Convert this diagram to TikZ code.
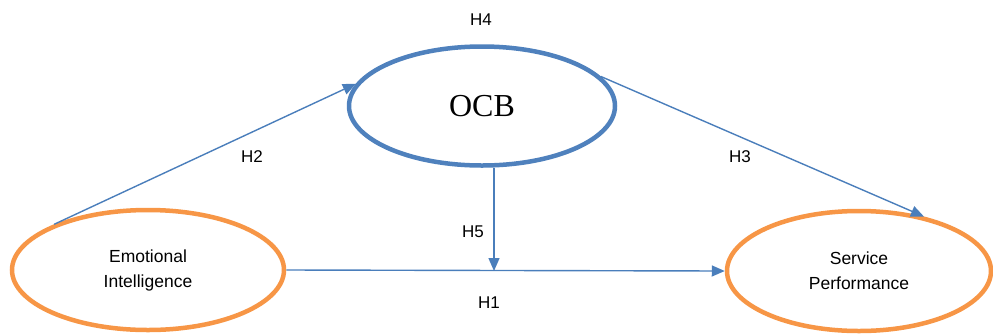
\documentclass[tikz,border=0pt]{standalone}
\usepackage{fontspec}
\setmainfont{Liberation Sans}
\newfontfamily\serifface{Liberation Serif}
\usetikzlibrary{shapes.geometric,arrows.meta}
\definecolor{ocbblue}{HTML}{4F81BD}
\definecolor{linkblue}{HTML}{4A7EBB}
\definecolor{eiorange}{HTML}{F79646}
\tikzset{
  construct/.style={ellipse, draw=eiorange, line width=4.5pt, fill=white, inner sep=0pt,
    align=center, font=\fontsize{17.5}{25}\selectfont},
  mediator/.style={ellipse, draw=ocbblue, line width=4.5pt, fill=white, inner sep=0pt,
    font=\serifface\fontsize{32}{36}\selectfont},
  link/.style={draw=linkblue, line width=1.4pt, -{Triangle[length=13pt,width=11pt]}},
  hyp/.style={font=\fontsize{17}{20}\selectfont}
}
\begin{document}
\begin{tikzpicture}[x=1pt,y=-1pt]
\useasboundingbox (0,0) rectangle (993,333);
% constructs
\node[construct, minimum width=272pt, minimum height=120pt] (ei) at (148,270) {Emotional\\Intelligence};
\node[construct, minimum width=264pt, minimum height=120pt] (sp) at (859,271) {Service\\Performance};
\node[mediator, minimum width=266pt, minimum height=119pt] (ocb) at (482,106) {OCB};
% junction on the direct path
\coordinate (j) at (494,271);
% hypothesised paths
\draw[link] (ei.east) -- (sp.west);
\draw[link] (ei.154) -- (ocb.170);
\draw[link] (ocb.14) -- (sp.40);
\draw[link] (j |- ocb.south) -- (j);
% labels
\node[hyp] (h4) at (481,20) {H4};
\node[hyp] (h2) at (252,157) {H2};
\node[hyp] (h3) at (740,157) {H3};
\node[hyp] (h5) at (473,232) {H5};
\node[hyp] (h1) at (489,303) {H1};
\end{tikzpicture}
\end{document}
